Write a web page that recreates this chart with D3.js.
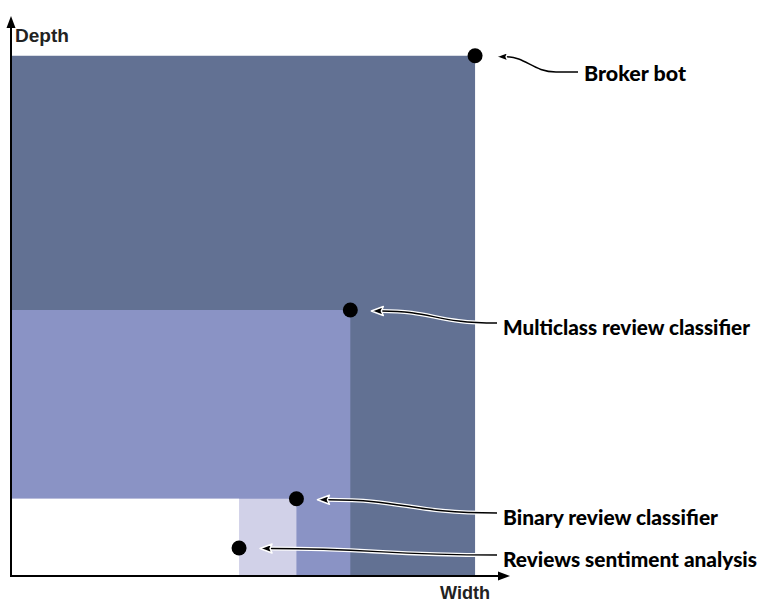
<!DOCTYPE html>
<html>
<head>
<meta charset="utf-8">
<script src="https://cdn.jsdelivr.net/npm/d3@7"></script>
<style>
  html, body { margin: 0; padding: 0; background: #fff; }
  svg { display: block; }
</style>
</head>
<body>
<svg id="chart" width="759" height="603"></svg>
<script>
// ---- data ----
const names  = ["Broker bot", "Multiclass review classifier", "Binary review classifier", "Reviews sentiment analysis"];
const widths = [9.3, 6.8, 5.72, 4.57];   // x (Width)
const depths = [9.29, 4.75, 1.38, 0.5];  // y (Depth)
// fill region for each project (drawn from the largest down)
const regionWidth = [9.3, 6.8, 5.72, 4.57];
const regionDepth = [9.29, 4.75, 1.38, 1.38];
const regionColor = ["#627193", "#8a93c5", "#d1d1e8", "#ffffff"];
const axisLabels = ["Width", "Depth"];
// annotation label anchors (baseline positions in px)
const labelX = [584, 503, 503, 503];
const labelY = [81, 335, 525, 567];
const labelLen = [102, 247, 215, 254];

const svg = d3.select("#chart");
const x = d3.scaleLinear().domain([0, 10]).range([11, 510]);
const y = d3.scaleLinear().domain([0, 10]).range([576, 16]);

// regions
svg.append("g").selectAll("rect")
  .data(d3.range(regionWidth.length))
  .join("rect")
  .attr("x", x(0))
  .attr("y", i => y(regionDepth[i]))
  .attr("width", i => x(regionWidth[i]) - x(0))
  .attr("height", i => y(0) - y(regionDepth[i]))
  .attr("fill", i => regionColor[i]);

// axes
const ax = svg.append("g");
ax.append("line").attr("x1", x(0)).attr("y1", y(0)).attr("x2", x(10) - 8).attr("y2", y(0))
  .attr("stroke", "#000").attr("stroke-width", 2);
ax.append("line").attr("x1", x(0)).attr("y1", y(0) + 1).attr("x2", x(0)).attr("y2", y(10) + 8)
  .attr("stroke", "#000").attr("stroke-width", 2);
ax.append("path")
  .attr("d", `M${x(10)},${y(0)} L${x(10) - 12},${y(0) - 4.5} L${x(10) - 12},${y(0) + 4.5} Z`)
  .attr("fill", "#000");
ax.append("path")
  .attr("d", `M${x(0)},${y(10)} L${x(0) - 4.5},${y(10) + 12} L${x(0) + 4.5},${y(10) + 12} Z`)
  .attr("fill", "#000");

svg.append("text").text(axisLabels[0])
  .attr("x", 440).attr("y", 599)
  .attr("font-family", "Liberation Sans, Arial, sans-serif")
  .attr("font-weight", "bold").attr("font-size", 17.5)
  .attr("textLength", 50).attr("lengthAdjust", "spacingAndGlyphs")
  .attr("fill", "#222");
svg.append("text").text(axisLabels[1])
  .attr("x", 15).attr("y", 42)
  .attr("font-family", "Liberation Sans, Arial, sans-serif")
  .attr("font-weight", "bold").attr("font-size", 17.5)
  .attr("textLength", 54).attr("lengthAdjust", "spacingAndGlyphs")
  .attr("fill", "#222");

// points
svg.append("g").selectAll("circle")
  .data(d3.range(names.length))
  .join("circle")
  .attr("cx", i => x(widths[i]))
  .attr("cy", i => y(depths[i]))
  .attr("r", 7.5)
  .attr("fill", "#000");

// annotation arrows
const ann = svg.append("g");
d3.range(names.length).forEach(i => {
  const px = x(widths[i]), py = y(depths[i]);
  const tx = px + 21, ty = py + (i === 3 ? 0.5 : 1);
  const sx = labelX[i] - 6, sy = labelY[i] - (i === 0 ? 9 : 12);
  const mx = (sx + tx) / 2;
  const d = i === 0
    ? `M${sx},${sy} L${sx - 22},${sy} C${sx - 45},${sy} ${tx + 30},${ty} ${tx + 10},${ty}`
    : `M${sx},${sy} C${mx},${sy} ${mx},${ty} ${tx + 10},${ty}`;
  ann.append("path").attr("d", d).attr("fill", "none")
    .attr("stroke", "#fff").attr("stroke-width", 4);
  ann.append("path").attr("d", d).attr("fill", "none")
    .attr("stroke", "#000").attr("stroke-width", 1.4);
  const head = `M${tx},${ty} L${tx + 12},${ty - 4.5} L${tx + 10},${ty} L${tx + 12},${ty + 4.5} Z`;
  ann.append("path").attr("d", head).attr("fill", "#000")
    .attr("stroke", "#fff").attr("stroke-width", 1.5).attr("stroke-linejoin", "round");

  ann.append("text").text(names[i])
    .attr("x", labelX[i]).attr("y", labelY[i])
    .attr("font-family", "Lato, 'Open Sans', sans-serif")
    .attr("font-weight", 900).attr("font-size", 21)
    .attr("textLength", labelLen[i]).attr("lengthAdjust", "spacingAndGlyphs")
    .attr("fill", "#000");
});
</script>
</body>
</html>
